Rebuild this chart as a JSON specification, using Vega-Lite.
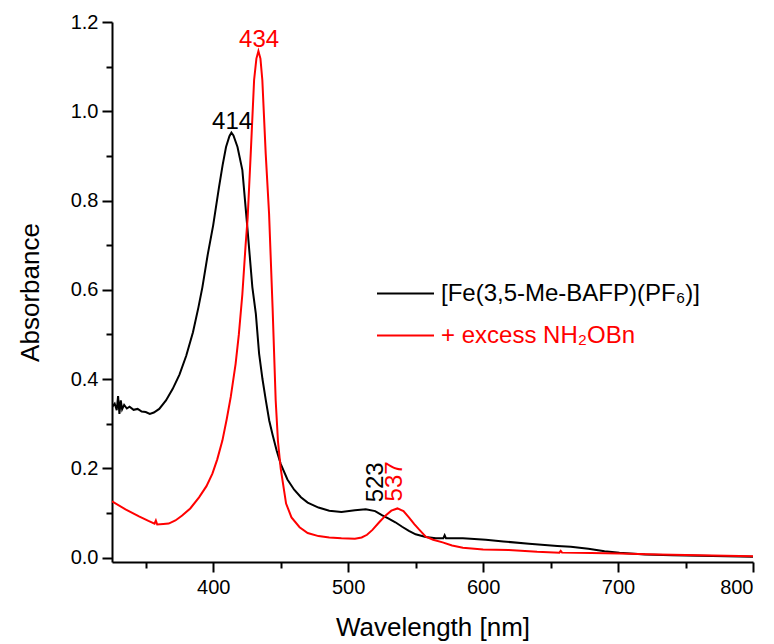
{
  "$schema": "https://vega.github.io/schema/vega-lite/v6.json",
  "autosize": {"type": "none"},
  "padding": {"left": 112, "top": 22, "right": 21, "bottom": 82},
  "width": 641,
  "height": 540,
  "background": "white",
  "config": {
    "view": {"stroke": null},
    "font": "Liberation Sans",
    "axis": {"labelFont": "Liberation Sans", "titleFont": "Liberation Sans", "labelColor": "#000000", "titleColor": "#000000", "domainColor": "#000000", "tickColor": "#000000", "domainWidth": 2, "tickWidth": 2, "grid": false, "titleFontWeight": "normal"}
  },
  "datasets": {
    "spectra": [
      {"series": "[Fe(3,5-Me-BAFP)(PF₆)]", "wl": 325, "A": 0.337},
      {"series": "[Fe(3,5-Me-BAFP)(PF₆)]", "wl": 327, "A": 0.345},
      {"series": "[Fe(3,5-Me-BAFP)(PF₆)]", "wl": 328.5, "A": 0.33},
      {"series": "[Fe(3,5-Me-BAFP)(PF₆)]", "wl": 329.5, "A": 0.362},
      {"series": "[Fe(3,5-Me-BAFP)(PF₆)]", "wl": 330.5, "A": 0.322},
      {"series": "[Fe(3,5-Me-BAFP)(PF₆)]", "wl": 331.5, "A": 0.352},
      {"series": "[Fe(3,5-Me-BAFP)(PF₆)]", "wl": 332.5, "A": 0.332},
      {"series": "[Fe(3,5-Me-BAFP)(PF₆)]", "wl": 334, "A": 0.342},
      {"series": "[Fe(3,5-Me-BAFP)(PF₆)]", "wl": 336, "A": 0.334},
      {"series": "[Fe(3,5-Me-BAFP)(PF₆)]", "wl": 338, "A": 0.338},
      {"series": "[Fe(3,5-Me-BAFP)(PF₆)]", "wl": 341, "A": 0.331},
      {"series": "[Fe(3,5-Me-BAFP)(PF₆)]", "wl": 344, "A": 0.333},
      {"series": "[Fe(3,5-Me-BAFP)(PF₆)]", "wl": 347, "A": 0.327},
      {"series": "[Fe(3,5-Me-BAFP)(PF₆)]", "wl": 350, "A": 0.326},
      {"series": "[Fe(3,5-Me-BAFP)(PF₆)]", "wl": 353, "A": 0.322},
      {"series": "[Fe(3,5-Me-BAFP)(PF₆)]", "wl": 356, "A": 0.325},
      {"series": "[Fe(3,5-Me-BAFP)(PF₆)]", "wl": 360, "A": 0.333},
      {"series": "[Fe(3,5-Me-BAFP)(PF₆)]", "wl": 365, "A": 0.352},
      {"series": "[Fe(3,5-Me-BAFP)(PF₆)]", "wl": 370, "A": 0.378},
      {"series": "[Fe(3,5-Me-BAFP)(PF₆)]", "wl": 375, "A": 0.41},
      {"series": "[Fe(3,5-Me-BAFP)(PF₆)]", "wl": 380, "A": 0.452},
      {"series": "[Fe(3,5-Me-BAFP)(PF₆)]", "wl": 385, "A": 0.505},
      {"series": "[Fe(3,5-Me-BAFP)(PF₆)]", "wl": 389, "A": 0.56},
      {"series": "[Fe(3,5-Me-BAFP)(PF₆)]", "wl": 392, "A": 0.606},
      {"series": "[Fe(3,5-Me-BAFP)(PF₆)]", "wl": 396, "A": 0.68},
      {"series": "[Fe(3,5-Me-BAFP)(PF₆)]", "wl": 400, "A": 0.745},
      {"series": "[Fe(3,5-Me-BAFP)(PF₆)]", "wl": 404.3, "A": 0.83},
      {"series": "[Fe(3,5-Me-BAFP)(PF₆)]", "wl": 407, "A": 0.88},
      {"series": "[Fe(3,5-Me-BAFP)(PF₆)]", "wl": 409.5, "A": 0.92},
      {"series": "[Fe(3,5-Me-BAFP)(PF₆)]", "wl": 412, "A": 0.944},
      {"series": "[Fe(3,5-Me-BAFP)(PF₆)]", "wl": 413.5, "A": 0.952},
      {"series": "[Fe(3,5-Me-BAFP)(PF₆)]", "wl": 415, "A": 0.946},
      {"series": "[Fe(3,5-Me-BAFP)(PF₆)]", "wl": 418, "A": 0.92},
      {"series": "[Fe(3,5-Me-BAFP)(PF₆)]", "wl": 421.6, "A": 0.868},
      {"series": "[Fe(3,5-Me-BAFP)(PF₆)]", "wl": 425.3, "A": 0.74},
      {"series": "[Fe(3,5-Me-BAFP)(PF₆)]", "wl": 429, "A": 0.606},
      {"series": "[Fe(3,5-Me-BAFP)(PF₆)]", "wl": 431.6, "A": 0.546},
      {"series": "[Fe(3,5-Me-BAFP)(PF₆)]", "wl": 434, "A": 0.457},
      {"series": "[Fe(3,5-Me-BAFP)(PF₆)]", "wl": 436.5, "A": 0.4},
      {"series": "[Fe(3,5-Me-BAFP)(PF₆)]", "wl": 439, "A": 0.352},
      {"series": "[Fe(3,5-Me-BAFP)(PF₆)]", "wl": 441.5, "A": 0.307},
      {"series": "[Fe(3,5-Me-BAFP)(PF₆)]", "wl": 444, "A": 0.275},
      {"series": "[Fe(3,5-Me-BAFP)(PF₆)]", "wl": 447, "A": 0.24},
      {"series": "[Fe(3,5-Me-BAFP)(PF₆)]", "wl": 450, "A": 0.21},
      {"series": "[Fe(3,5-Me-BAFP)(PF₆)]", "wl": 455, "A": 0.175},
      {"series": "[Fe(3,5-Me-BAFP)(PF₆)]", "wl": 460, "A": 0.152},
      {"series": "[Fe(3,5-Me-BAFP)(PF₆)]", "wl": 465, "A": 0.135},
      {"series": "[Fe(3,5-Me-BAFP)(PF₆)]", "wl": 470, "A": 0.123},
      {"series": "[Fe(3,5-Me-BAFP)(PF₆)]", "wl": 478, "A": 0.112},
      {"series": "[Fe(3,5-Me-BAFP)(PF₆)]", "wl": 486, "A": 0.105},
      {"series": "[Fe(3,5-Me-BAFP)(PF₆)]", "wl": 495, "A": 0.102},
      {"series": "[Fe(3,5-Me-BAFP)(PF₆)]", "wl": 505, "A": 0.106},
      {"series": "[Fe(3,5-Me-BAFP)(PF₆)]", "wl": 513, "A": 0.108},
      {"series": "[Fe(3,5-Me-BAFP)(PF₆)]", "wl": 520, "A": 0.104},
      {"series": "[Fe(3,5-Me-BAFP)(PF₆)]", "wl": 525, "A": 0.095},
      {"series": "[Fe(3,5-Me-BAFP)(PF₆)]", "wl": 530, "A": 0.087},
      {"series": "[Fe(3,5-Me-BAFP)(PF₆)]", "wl": 535, "A": 0.079},
      {"series": "[Fe(3,5-Me-BAFP)(PF₆)]", "wl": 540, "A": 0.069},
      {"series": "[Fe(3,5-Me-BAFP)(PF₆)]", "wl": 545, "A": 0.06},
      {"series": "[Fe(3,5-Me-BAFP)(PF₆)]", "wl": 550, "A": 0.052},
      {"series": "[Fe(3,5-Me-BAFP)(PF₆)]", "wl": 557.5, "A": 0.046},
      {"series": "[Fe(3,5-Me-BAFP)(PF₆)]", "wl": 565, "A": 0.043},
      {"series": "[Fe(3,5-Me-BAFP)(PF₆)]", "wl": 570.5, "A": 0.043},
      {"series": "[Fe(3,5-Me-BAFP)(PF₆)]", "wl": 571.5, "A": 0.05},
      {"series": "[Fe(3,5-Me-BAFP)(PF₆)]", "wl": 572.5, "A": 0.043},
      {"series": "[Fe(3,5-Me-BAFP)(PF₆)]", "wl": 585, "A": 0.043},
      {"series": "[Fe(3,5-Me-BAFP)(PF₆)]", "wl": 602, "A": 0.04},
      {"series": "[Fe(3,5-Me-BAFP)(PF₆)]", "wl": 615, "A": 0.036},
      {"series": "[Fe(3,5-Me-BAFP)(PF₆)]", "wl": 634, "A": 0.031},
      {"series": "[Fe(3,5-Me-BAFP)(PF₆)]", "wl": 655, "A": 0.026},
      {"series": "[Fe(3,5-Me-BAFP)(PF₆)]", "wl": 665, "A": 0.024},
      {"series": "[Fe(3,5-Me-BAFP)(PF₆)]", "wl": 678, "A": 0.0195},
      {"series": "[Fe(3,5-Me-BAFP)(PF₆)]", "wl": 690, "A": 0.014},
      {"series": "[Fe(3,5-Me-BAFP)(PF₆)]", "wl": 701, "A": 0.0105},
      {"series": "[Fe(3,5-Me-BAFP)(PF₆)]", "wl": 720, "A": 0.007},
      {"series": "[Fe(3,5-Me-BAFP)(PF₆)]", "wl": 740, "A": 0.005},
      {"series": "[Fe(3,5-Me-BAFP)(PF₆)]", "wl": 760, "A": 0.004},
      {"series": "[Fe(3,5-Me-BAFP)(PF₆)]", "wl": 780, "A": 0.003},
      {"series": "[Fe(3,5-Me-BAFP)(PF₆)]", "wl": 800, "A": 0.002},
      {"series": "+ excess NH₂OBn", "wl": 325, "A": 0.126},
      {"series": "+ excess NH₂OBn", "wl": 335, "A": 0.108},
      {"series": "+ excess NH₂OBn", "wl": 345, "A": 0.092},
      {"series": "+ excess NH₂OBn", "wl": 352, "A": 0.082},
      {"series": "+ excess NH₂OBn", "wl": 356.5, "A": 0.076},
      {"series": "+ excess NH₂OBn", "wl": 357.5, "A": 0.083},
      {"series": "+ excess NH₂OBn", "wl": 358.5, "A": 0.074},
      {"series": "+ excess NH₂OBn", "wl": 363, "A": 0.075},
      {"series": "+ excess NH₂OBn", "wl": 367, "A": 0.076},
      {"series": "+ excess NH₂OBn", "wl": 372, "A": 0.083},
      {"series": "+ excess NH₂OBn", "wl": 377, "A": 0.094},
      {"series": "+ excess NH₂OBn", "wl": 383, "A": 0.11},
      {"series": "+ excess NH₂OBn", "wl": 389.5, "A": 0.135},
      {"series": "+ excess NH₂OBn", "wl": 395, "A": 0.16},
      {"series": "+ excess NH₂OBn", "wl": 399.4, "A": 0.188},
      {"series": "+ excess NH₂OBn", "wl": 403, "A": 0.22},
      {"series": "+ excess NH₂OBn", "wl": 406.8, "A": 0.262},
      {"series": "+ excess NH₂OBn", "wl": 410, "A": 0.31},
      {"series": "+ excess NH₂OBn", "wl": 413, "A": 0.36},
      {"series": "+ excess NH₂OBn", "wl": 416.6, "A": 0.434},
      {"series": "+ excess NH₂OBn", "wl": 419, "A": 0.5},
      {"series": "+ excess NH₂OBn", "wl": 421.6, "A": 0.59},
      {"series": "+ excess NH₂OBn", "wl": 424, "A": 0.7},
      {"series": "+ excess NH₂OBn", "wl": 425.5, "A": 0.76},
      {"series": "+ excess NH₂OBn", "wl": 427.8, "A": 0.905},
      {"series": "+ excess NH₂OBn", "wl": 430.3, "A": 1.07},
      {"series": "+ excess NH₂OBn", "wl": 432, "A": 1.118},
      {"series": "+ excess NH₂OBn", "wl": 433.5, "A": 1.135},
      {"series": "+ excess NH₂OBn", "wl": 435, "A": 1.118},
      {"series": "+ excess NH₂OBn", "wl": 436.4, "A": 1.07},
      {"series": "+ excess NH₂OBn", "wl": 438.9, "A": 0.905},
      {"series": "+ excess NH₂OBn", "wl": 441.4, "A": 0.77},
      {"series": "+ excess NH₂OBn", "wl": 444, "A": 0.56},
      {"series": "+ excess NH₂OBn", "wl": 446.3, "A": 0.352},
      {"series": "+ excess NH₂OBn", "wl": 448, "A": 0.26},
      {"series": "+ excess NH₂OBn", "wl": 450, "A": 0.2},
      {"series": "+ excess NH₂OBn", "wl": 454, "A": 0.121},
      {"series": "+ excess NH₂OBn", "wl": 458, "A": 0.09},
      {"series": "+ excess NH₂OBn", "wl": 464, "A": 0.068},
      {"series": "+ excess NH₂OBn", "wl": 470, "A": 0.055},
      {"series": "+ excess NH₂OBn", "wl": 478, "A": 0.048},
      {"series": "+ excess NH₂OBn", "wl": 486, "A": 0.045},
      {"series": "+ excess NH₂OBn", "wl": 495, "A": 0.043},
      {"series": "+ excess NH₂OBn", "wl": 505, "A": 0.042},
      {"series": "+ excess NH₂OBn", "wl": 510, "A": 0.045},
      {"series": "+ excess NH₂OBn", "wl": 514, "A": 0.051},
      {"series": "+ excess NH₂OBn", "wl": 518, "A": 0.062},
      {"series": "+ excess NH₂OBn", "wl": 523, "A": 0.079},
      {"series": "+ excess NH₂OBn", "wl": 528, "A": 0.095},
      {"series": "+ excess NH₂OBn", "wl": 532, "A": 0.105},
      {"series": "+ excess NH₂OBn", "wl": 536.5, "A": 0.11},
      {"series": "+ excess NH₂OBn", "wl": 541, "A": 0.104},
      {"series": "+ excess NH₂OBn", "wl": 545, "A": 0.09},
      {"series": "+ excess NH₂OBn", "wl": 549, "A": 0.075},
      {"series": "+ excess NH₂OBn", "wl": 552.5, "A": 0.063},
      {"series": "+ excess NH₂OBn", "wl": 557.5, "A": 0.047},
      {"series": "+ excess NH₂OBn", "wl": 563, "A": 0.04},
      {"series": "+ excess NH₂OBn", "wl": 570, "A": 0.034},
      {"series": "+ excess NH₂OBn", "wl": 577, "A": 0.027},
      {"series": "+ excess NH₂OBn", "wl": 585, "A": 0.022},
      {"series": "+ excess NH₂OBn", "wl": 600, "A": 0.018},
      {"series": "+ excess NH₂OBn", "wl": 619, "A": 0.017},
      {"series": "+ excess NH₂OBn", "wl": 640, "A": 0.013},
      {"series": "+ excess NH₂OBn", "wl": 656.5, "A": 0.011},
      {"series": "+ excess NH₂OBn", "wl": 657.5, "A": 0.015},
      {"series": "+ excess NH₂OBn", "wl": 658.5, "A": 0.011},
      {"series": "+ excess NH₂OBn", "wl": 680, "A": 0.01},
      {"series": "+ excess NH₂OBn", "wl": 701, "A": 0.009},
      {"series": "+ excess NH₂OBn", "wl": 730, "A": 0.007},
      {"series": "+ excess NH₂OBn", "wl": 760, "A": 0.005},
      {"series": "+ excess NH₂OBn", "wl": 800, "A": 0.003}
    ],
    "peaks": [
      {"series": "[Fe(3,5-Me-BAFP)(PF₆)]", "label": "414", "wl": 414, "A": 0.952, "band": "Soret"},
      {"series": "+ excess NH₂OBn", "label": "434", "wl": 434, "A": 1.135, "band": "Soret"},
      {"series": "[Fe(3,5-Me-BAFP)(PF₆)]", "label": "523", "wl": 523, "A": 0.108, "band": "Q"},
      {"series": "+ excess NH₂OBn", "label": "537", "wl": 537, "A": 0.11, "band": "Q"}
    ]
  },
  "layer": [
    {
      "data": {"name": "spectra"},
      "mark": {"type": "line", "strokeWidth": 2, "clip": true},
      "encoding": {
        "x": {
          "field": "wl", "type": "quantitative",
          "scale": {"domain": [325, 800], "nice": false, "zero": false},
          "axis": {
            "title": "Wavelength [nm]", "titleFontSize": 26, "titlePadding": 17,
            "values": [350, 400, 450, 500, 550, 600, 650, 700, 750, 800],
            "labelExpr": "datum.value % 100 === 0 ? datum.label : ''",
            "labelFontSize": 20, "labelPadding": 5,
            "tickSize": {"condition": {"test": "datum.value % 100 === 0", "value": 10}, "value": 6}
          }
        },
        "y": {
          "field": "A", "type": "quantitative",
          "scale": {"domain": [-0.01, 1.2], "nice": false, "zero": false},
          "axis": {
            "title": "Absorbance", "titleFontSize": 26, "titlePadding": 27,
            "values": [0, 0.1, 0.2, 0.3, 0.4, 0.5, 0.6, 0.7, 0.8, 0.9, 1.0, 1.1, 1.2],
            "format": ".1f",
            "labelExpr": "round(datum.value * 10) % 2 === 0 ? datum.label : ''",
            "labelFontSize": 20, "labelPadding": 4,
            "tickSize": {"condition": {"test": "round(datum.value * 10) % 2 === 0", "value": 10}, "value": 6}
          }
        },
        "color": {
          "field": "series", "type": "nominal",
          "scale": {"domain": ["[Fe(3,5-Me-BAFP)(PF₆)]", "+ excess NH₂OBn"], "range": ["#000000", "#ff0000"]},
          "legend": {
            "title": null, "orient": "none", "legendX": 264, "legendY": 242,
            "symbolType": "stroke", "symbolSize": 3249, "symbolStrokeWidth": 2,
            "labelFont": "Liberation Sans", "labelFontSize": 24, "labelOffset": 6,
            "labelColor": {"expr": "datum.index === 0 ? '#000000' : '#ff0000'"},
            "labelLimit": 0, "rowPadding": -3
          }
        }
      }
    },
    {
      "data": {"name": "peaks"},
      "transform": [{"filter": "datum.band === 'Soret'"}],
      "mark": {"type": "text", "font": "Liberation Sans", "fontSize": 24, "baseline": "bottom", "align": "center", "dy": 1},
      "encoding": {
        "x": {"field": "wl", "type": "quantitative"},
        "y": {"field": "A", "type": "quantitative"},
        "text": {"field": "label"},
        "fill": {"field": "series", "type": "nominal", "scale": {"domain": ["[Fe(3,5-Me-BAFP)(PF₆)]", "+ excess NH₂OBn"], "range": ["#000000", "#ff0000"]}, "legend": null}
      }
    },
    {
      "data": {"name": "peaks"},
      "transform": [{"filter": "datum.band === 'Q'"}],
      "mark": {"type": "text", "font": "Liberation Sans", "fontSize": 24, "baseline": "middle", "align": "left", "angle": 270, "dx": 7, "dy": -3},
      "encoding": {
        "x": {"field": "wl", "type": "quantitative"},
        "y": {"field": "A", "type": "quantitative"},
        "text": {"field": "label"},
        "fill": {"field": "series", "type": "nominal", "scale": {"domain": ["[Fe(3,5-Me-BAFP)(PF₆)]", "+ excess NH₂OBn"], "range": ["#000000", "#ff0000"]}, "legend": null}
      }
    }
  ]
}
